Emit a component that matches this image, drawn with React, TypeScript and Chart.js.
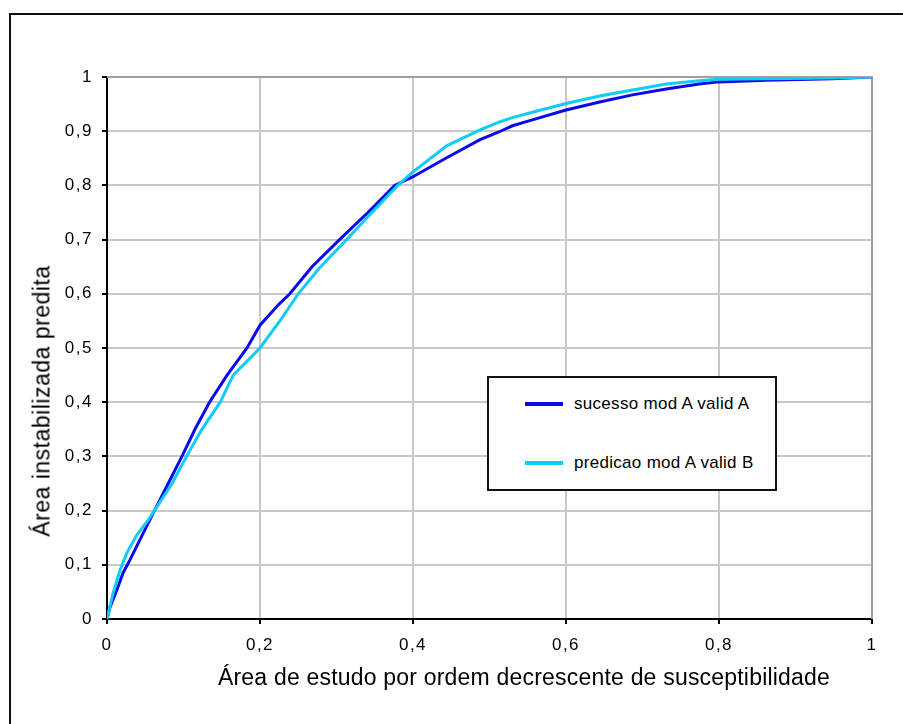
import React, { useEffect, useRef } from 'react';
import { Chart, registerables } from 'chart.js';

Chart.register(...registerables);

const seriesNames = ['sucesso mod A valid A', 'predicao mod A valid B'];
const seriesColors = ['#0a0ae6', '#10ccf8'];

const sucessoX = [0, 0.004, 0.013, 0.021, 0.030, 0.043, 0.056, 0.080, 0.098, 0.115, 0.134, 0.157, 0.183, 0.200, 0.225, 0.239, 0.268, 0.304, 0.341, 0.376, 0.400, 0.444, 0.487, 0.513, 0.530, 0.556, 0.600, 0.644, 0.687, 0.731, 0.774, 0.800, 0.862, 0.948, 1.0];
const sucessoY = [0, 0.022, 0.054, 0.085, 0.109, 0.146, 0.183, 0.250, 0.300, 0.350, 0.400, 0.450, 0.500, 0.542, 0.581, 0.600, 0.650, 0.700, 0.750, 0.800, 0.816, 0.851, 0.884, 0.899, 0.910, 0.921, 0.939, 0.954, 0.967, 0.978, 0.987, 0.991, 0.994, 0.997, 1.0];

const predicaoX = [0, 0.008, 0.017, 0.026, 0.039, 0.054, 0.062, 0.085, 0.104, 0.124, 0.148, 0.165, 0.200, 0.225, 0.250, 0.278, 0.310, 0.343, 0.380, 0.400, 0.444, 0.487, 0.513, 0.530, 0.556, 0.600, 0.644, 0.687, 0.731, 0.774, 0.800, 0.862, 0.948, 1.0];
const predicaoY = [0, 0.048, 0.090, 0.122, 0.155, 0.183, 0.200, 0.250, 0.300, 0.350, 0.400, 0.450, 0.500, 0.548, 0.600, 0.648, 0.695, 0.745, 0.800, 0.825, 0.873, 0.902, 0.917, 0.925, 0.935, 0.951, 0.965, 0.976, 0.987, 0.993, 0.996, 0.997, 0.998, 1.0];

const xTicks = [0, 0.2, 0.4, 0.6, 0.8, 1];
const yTicks = [0, 0.1, 0.2, 0.3, 0.4, 0.5, 0.6, 0.7, 0.8, 0.9, 1];

const xTitle = 'Área de estudo por ordem decrescente de susceptibilidade';
const yTitle = 'Área instabilizada predita';

const FONT = "'Liberation Sans', Arial, sans-serif";

const fmt = (v: number) => String(Math.round(v * 10) / 10).replace('.', ',');

const plotBorder = {
  id: 'plotBorder',
  beforeDraw(chart: any) {
    (chart.ctx as any).letterSpacing = '1.5px';
  },
  beforeDatasetsDraw(chart: any) {
    const { ctx, chartArea } = chart;
    ctx.save();
    ctx.strokeStyle = '#a0a0a0';
    ctx.lineWidth = 2;
    ctx.beginPath();
    ctx.moveTo(chartArea.left, chartArea.top);
    ctx.lineTo(chartArea.right, chartArea.top);
    ctx.lineTo(chartArea.right, chartArea.bottom);
    ctx.stroke();
    ctx.restore();
  },
  afterDraw(chart: any) {
    (chart.ctx as any).letterSpacing = '0px';
  },
};

export default function App() {
  const canvasRef = useRef<HTMLCanvasElement | null>(null);

  useEffect(() => {
    if (!canvasRef.current) return;
    const chart = new Chart(canvasRef.current, {
      type: 'scatter',
      data: {
        datasets: [
          {
            label: seriesNames[0],
            data: sucessoX.map((x, i) => ({ x, y: sucessoY[i] })),
            borderColor: seriesColors[0],
            backgroundColor: seriesColors[0],
            borderWidth: 3,
            showLine: true,
            pointRadius: 0,
            order: 1,
          },
          {
            label: seriesNames[1],
            data: predicaoX.map((x, i) => ({ x, y: predicaoY[i] })),
            borderColor: seriesColors[1],
            backgroundColor: seriesColors[1],
            borderWidth: 3,
            showLine: true,
            pointRadius: 0,
            order: 0,
          },
        ],
      },
      options: {
        responsive: false,
        animation: false,
        layout: { padding: { left: 10, right: 31, top: 77, bottom: 45 } },
        plugins: {
          legend: { display: false },
          tooltip: { enabled: false },
          title: { display: false },
        },
        scales: {
          x: {
            type: 'linear',
            min: 0,
            max: 1,
            afterBuildTicks: (scale: any) => {
              scale.ticks = xTicks.map((v) => ({ value: v }));
            },
            afterFit: (scale: any) => {
              scale.height = 60;
            },
            ticks: {
              callback: (v: any) => fmt(Number(v)),
              color: '#000',
              font: { family: FONT, size: 17 },
              padding: 11,
              maxRotation: 0,
              autoSkip: false,
            },
            grid: {
              color: '#c8c8c8',
              lineWidth: 2,
              tickColor: '#000',
              tickLength: 5,
              tickWidth: 2,
            },
            border: { color: '#000', width: 2 },
          },
          y: {
            type: 'linear',
            min: 0,
            max: 1,
            afterBuildTicks: (scale: any) => {
              scale.ticks = yTicks.map((v) => ({ value: v }));
            },
            afterFit: (scale: any) => {
              scale.width = 97;
            },
            ticks: {
              callback: (v: any) => fmt(Number(v)),
              color: '#000',
              font: { family: FONT, size: 17 },
              padding: 9,
              autoSkip: false,
            },
            grid: {
              color: '#c8c8c8',
              lineWidth: 2,
              tickColor: '#000',
              tickLength: 5,
              tickWidth: 2,
            },
            border: { color: '#000', width: 2 },
          },
        },
      },
      plugins: [plotBorder],
    } as any);
    return () => chart.destroy();
  }, []);

  return (
    <div
      style={{
        position: 'fixed',
        left: 0,
        top: 0,
        width: 903,
        height: 724,
        background: '#fff',
        overflow: 'hidden',
        fontFamily: FONT,
        color: '#000',
      }}
    >
      <div
        style={{
          position: 'absolute',
          left: 9,
          top: 13,
          width: 1000,
          height: 1000,
          border: '2px solid #111',
        }}
      />
      <canvas
        ref={canvasRef}
        width={903}
        height={724}
        style={{ position: 'absolute', left: 0, top: 0 }}
      />
      <div
        style={{
          position: 'absolute',
          left: 42,
          top: 401,
          transform: 'translate(-50%, -50%) rotate(-90deg)',
          whiteSpace: 'nowrap',
          fontSize: 23,
          letterSpacing: 0.5,
          lineHeight: 1,
        }}
      >
        {yTitle}
      </div>
      <div
        style={{
          position: 'absolute',
          left: 524,
          top: 677,
          transform: 'translate(-50%, -50%)',
          whiteSpace: 'nowrap',
          fontSize: 23,
          letterSpacing: 0.2,
          lineHeight: 1,
        }}
      >
        {xTitle}
      </div>
      <div
        style={{
          position: 'absolute',
          left: 487,
          top: 376,
          width: 286,
          height: 111,
          border: '2px solid #111',
          background: '#fff',
        }}
      >
        {seriesNames.map((name, i) => (
          <div
            key={name}
            style={{
              position: 'absolute',
              left: 36,
              top: i === 0 ? 26 : 85,
              height: 0,
              width: 260,
            }}
          >
            <div
              style={{
                position: 'absolute',
                left: 0,
                top: -2,
                width: 38,
                height: 4,
                background: seriesColors[i],
              }}
            />
            <div
              style={{
                position: 'absolute',
                left: 49,
                top: -10,
                fontSize: 17,
                letterSpacing: 0.3,
                lineHeight: '20px',
                whiteSpace: 'nowrap',
              }}
            >
              {name}
            </div>
          </div>
        ))}
      </div>
    </div>
  );
}
